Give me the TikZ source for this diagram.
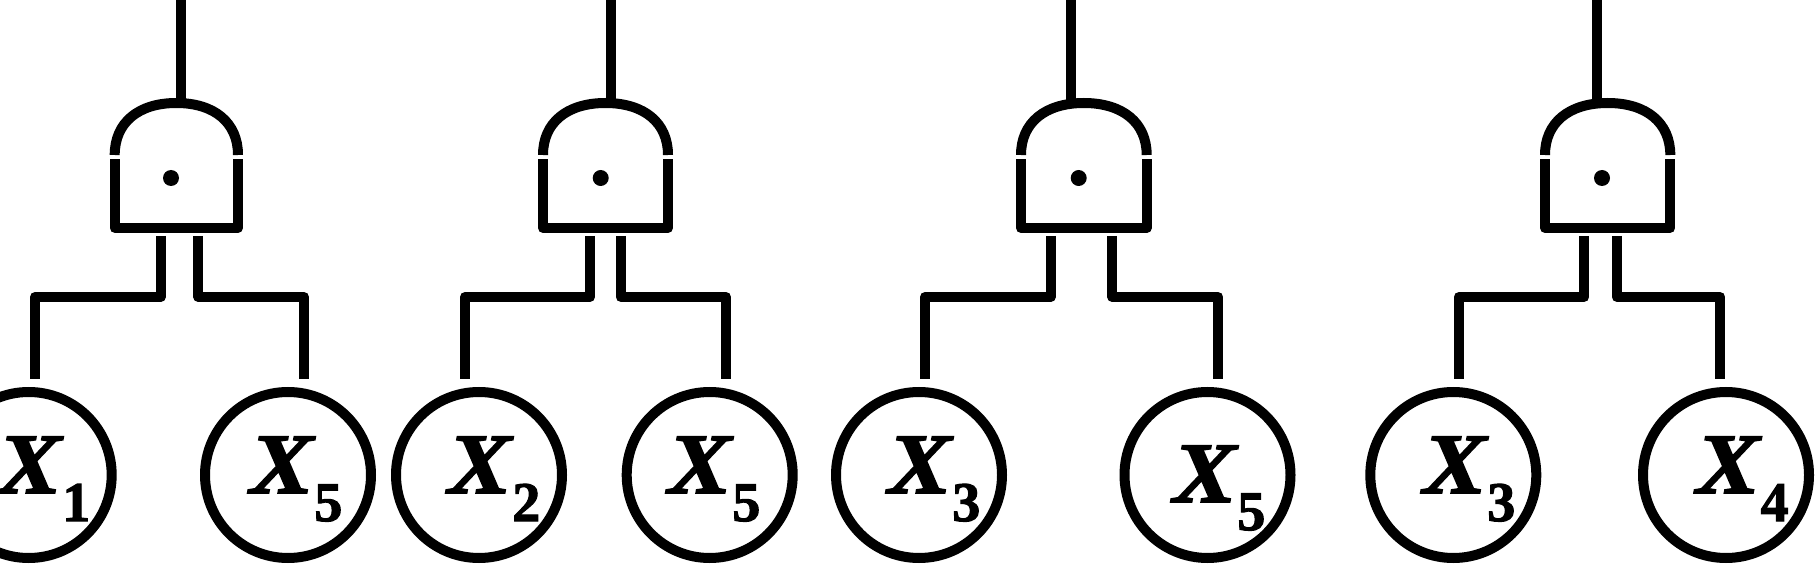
\documentclass[tikz,border=0pt]{standalone}
\usepackage{fontspec}
\setmainfont{Liberation Serif}
\newfontfamily\lblfont{Liberation Serif}[BoldFeatures={FakeBold=2},BoldItalicFeatures={FakeBold=2}]
\tikzset{
  ln/.style={line width=10pt, line join=round, line cap=butt},
  evt/.style={circle, draw, line width=10pt, minimum size=166pt, inner sep=0pt},
  lbl/.style={anchor=base west, inner sep=0pt, font=\fontsize{86}{86}\lblfont\bfseries\itshape},
}
\newcommand\varx{\scalebox{1.1}[1]{X}}
\newcommand\subidx[1]{\kern1pt\raisebox{-28pt}{\fontsize{56}{56}\selectfont\upshape\bfseries #1}}
% id, L, R, T, D, IL, IR, OL, OR
\newcommand\andgate[9]{%
  \draw[ln] (#2,-155) .. controls (#2,-122.8) and ({#2+0.19*(#3-#2)},-103) .. ({(#2+#3)/2},-103)
     .. controls ({#3-0.19*(#3-#2)},-103) and (#3,-122.8) .. (#3,-155);
  \draw[ln] (#2,-159.5) -- (#2,-228) -- (#3,-228) -- (#3,-159.5);
  \fill (#5,-178) circle[radius=8pt];
  \coordinate (#1top) at (#4,2);
  \coordinate (#1out) at (#4,-102);
  \draw[ln] (#1top) -- (#1out);
  \coordinate (#1a) at (#6,-236);
  \coordinate (#1b) at (#7,-236);
  \coordinate (#1ae) at (#8,-379);
  \coordinate (#1be) at (#9,-379);
  \draw[ln] (#1a) |- (#8,-297) -- (#1ae);
  \draw[ln] (#1b) |- (#9,-297) -- (#1be);
}
\begin{document}
\begin{tikzpicture}[x=1pt,y=1pt]
\useasboundingbox (0,0) rectangle (1816,-564);
\andgate{g1}{114.7}{238}{181}{171}{160.7}{198.3}{35}{304}
\andgate{g2}{543}{668}{611}{600.7}{590}{620.7}{465}{726}
\andgate{g3}{1021}{1146.7}{1070.7}{1078.7}{1050.7}{1112.3}{925}{1218.3}
\andgate{g4}{1545}{1670.3}{1596.7}{1602}{1584.3}{1616.7}{1458.7}{1720.3}
% basic events
\node[evt] (e1a) at (28.7,-475) {};
\node[evt] (e1b) at (288,-475) {};
\node[evt] (e2a) at (479,-475) {};
\node[evt] (e2b) at (709.7,-475) {};
\node[evt] (e3a) at (919,-475) {};
\node[evt] (e3b) at (1207.5,-475) {};
\node[evt] (e4a) at (1453.3,-475) {};
\node[evt] (e4b) at (1726,-475) {};
% labels
\node[lbl] (t1a) at (-2,-493) {\varx\subidx{1}};
\node[lbl] (t1b) at (250,-493) {\varx\subidx{5}};
\node[lbl] (t2a) at (448,-493) {\varx\subidx{2}};
\node[lbl] (t2b) at (668,-493) {\varx\subidx{5}};
\node[lbl] (t3a) at (888,-493) {\varx\subidx{3}};
\node[lbl] (t3b) at (1173,-502) {\varx\subidx{5}};
\node[lbl] (t4a) at (1423,-493) {\varx\subidx{3}};
\node[lbl] (t4b) at (1696.3,-493) {\varx\subidx{4}};
\end{tikzpicture}
\end{document}
